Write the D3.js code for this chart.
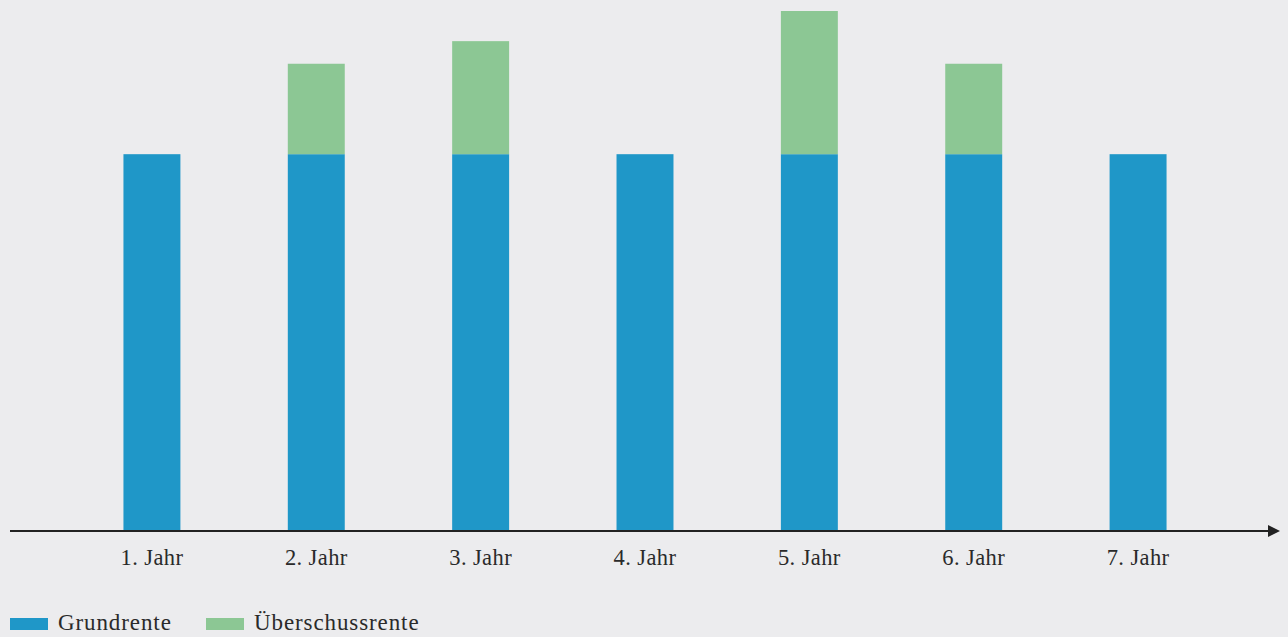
<!DOCTYPE html>
<html><head><meta charset="utf-8">
<script src="https://cdn.jsdelivr.net/npm/d3@7"></script>
<style>html,body{margin:0;padding:0;background:#ECECEE;}svg{display:block;}</style>
</head><body>
<svg id="c" width="1288" height="637"></svg>
<script>
const categories = ["1. Jahr","2. Jahr","3. Jahr","4. Jahr","5. Jahr","6. Jahr","7. Jahr"];
const grundrente = [100,100,100,100,100,100,100];
const ueberschussrente = [0,24,30,0,38,24,0];
const seriesNames = ["Grundrente","Überschussrente"];
const colors = ["#1F97C8","#8CC794"];

const svg = d3.select("#c");
const W = 1288, H = 637;
svg.append("rect").attr("width",W).attr("height",H).attr("fill","#ECECEE");

const x = d3.scaleBand().domain(categories).range([1,1289]).paddingInner(0.6535).paddingOuter(0.745);
const y = d3.scaleLinear().domain([0,138]).range([531,11]);

const rows = categories.map((c,i)=>({cat:c, Grundrente:grundrente[i], "Überschussrente":ueberschussrente[i]}));
const stacked = d3.stack().keys(seriesNames)(rows);

svg.append("g").selectAll("g").data(stacked).join("g")
  .attr("fill",(d,i)=>colors[i])
  .selectAll("rect").data(d=>d.filter(p=>p[1]-p[0]>0)).join("rect")
  .attr("x",d=>x(d.data.cat))
  .attr("width",x.bandwidth())
  .attr("y",d=>y(d[1]))
  .attr("height",d=>y(d[0])-y(d[1]));

// axis
const ax = svg.append("g").attr("transform","translate(0,531)");
ax.append("line").attr("x1",10).attr("x2",1270).attr("y1",0).attr("y2",0).attr("stroke","#222").attr("stroke-width",2);
ax.append("path").attr("d","M1268,-6 L1280,0 L1268,6 Z").attr("fill","#222");

const font = "'Liberation Serif', serif";
const xAxis = d3.axisBottom(x).tickSize(0).tickPadding(0);
const gx = svg.append("g").attr("transform","translate(0,565)").call(xAxis);
gx.select(".domain").remove();
gx.selectAll("text").attr("dy",0).attr("fill","#2a2a2a")
  .style("font-family",font).style("font-size","22.5px").style("letter-spacing","0.4px");

// legend
const legendX = [10,206];
const lg = svg.append("g");
seriesNames.forEach((n,i)=>{
  lg.append("rect").attr("x",legendX[i]).attr("y",618).attr("width",38).attr("height",12).attr("fill",colors[i]);
  lg.append("text").attr("x",legendX[i]+48).attr("y",630).text(n).attr("fill","#2a2a2a")
    .style("font-family",font).style("font-size","23px").style("letter-spacing","0.9px");
});
</script>
</body></html>
